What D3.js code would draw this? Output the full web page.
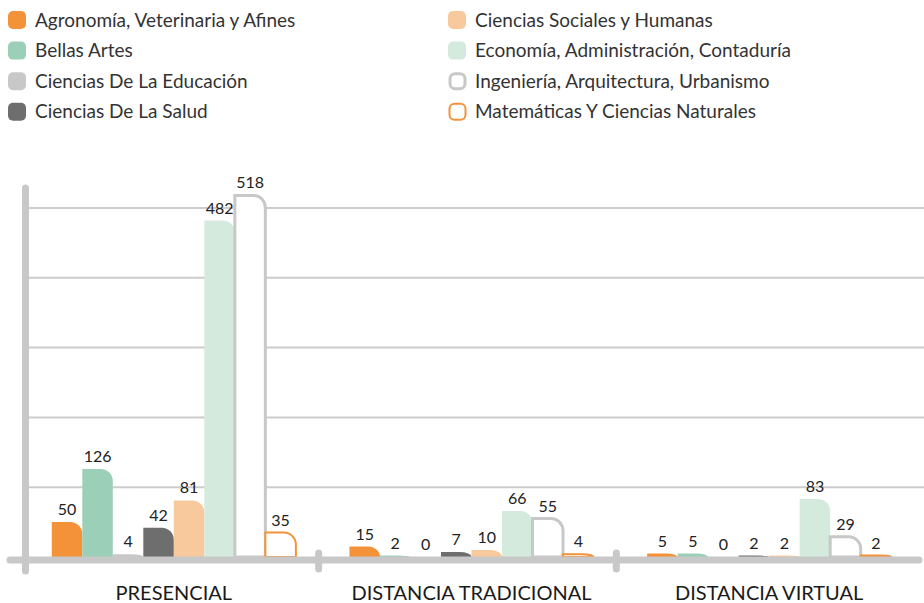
<!DOCTYPE html>
<html>
<head>
<meta charset="utf-8">
<script src="https://cdn.jsdelivr.net/npm/d3@7"></script>
<style>
  body { margin: 0; background: #fff; }
  svg { display: block; font-family: Lato, "Open Sans", sans-serif; }
</style>
</head>
<body>
<div id="chart"></div>
<script>
const modalities = ["PRESENCIAL", "DISTANCIA TRADICIONAL", "DISTANCIA VIRTUAL"];
const areas = [
  "Agronomía, Veterinaria y Afines",
  "Bellas Artes",
  "Ciencias De La Educación",
  "Ciencias De La Salud",
  "Ciencias Sociales y Humanas",
  "Economía, Administración, Contaduría",
  "Ingeniería, Arquitectura, Urbanismo",
  "Matemáticas Y Ciencias Naturales"
];
// values per area, in the order of modalities
const agronomia = [50, 15, 5];
const bellasArtes = [126, 2, 5];
const educacion = [4, 0, 0];
const salud = [42, 7, 2];
const sociales = [81, 10, 2];
const economia = [482, 66, 83];
const ingenieria = [518, 55, 29];
const matematicas = [35, 4, 2];
const gridTicks = [100, 200, 300, 400, 500];

const seriesValues = [agronomia, bellasArtes, educacion, salud, sociales, economia, ingenieria, matematicas];
const fills = ["#f39239", "#9ccfb8", "#c8c8c8", "#6e6e6e", "#f8c99d", "#d3eadd", "#ffffff", "#ffffff"];
const strokes = [null, null, null, null, null, null, "#c8c8c8", "#f39239"];
const strokeW = [0, 0, 0, 0, 0, 0, 3, 2];

const rows = [];
modalities.forEach((m, i) => {
  areas.forEach((a, j) => rows.push({ modality: m, area: a, idx: j, value: seriesValues[j][i] }));
});

const W = 924, H = 603;
const svg = d3.select("#chart").append("svg").attr("width", W).attr("height", H);

const x0 = d3.scaleBand().domain(modalities).range([25, 918]).paddingInner(0.18).paddingOuter(0.09);
const x1 = d3.scaleBand().domain(areas).range([0, x0.bandwidth()]);
const y = d3.scaleLinear().domain([0, 500]).range([557, 208]);

// Gridlines
svg.append("g")
  .selectAll("line")
  .data(gridTicks)
  .join("line")
  .attr("x1", 26).attr("x2", W)
  .attr("y1", (d) => y(d)).attr("y2", (d) => y(d))
  .attr("stroke", "#cccccc")
  .attr("stroke-width", 2);

// Y axis line
svg.append("line")
  .attr("x1", 25.5).attr("x2", 25.5)
  .attr("y1", 188).attr("y2", 571)
  .attr("stroke", "#c8c8c8")
  .attr("stroke-width", 7)
  .attr("stroke-linecap", "round");

// Bars with rounded top-right corner
function barPath(d) {
  const bx = x0(d.modality) + x1(d.area);
  const w = x1.bandwidth();
  const base = y(0);
  const top = y(d.value);
  const h = base - top;
  const r = Math.min(12, w);
  const ry = Math.min(r, h);
  return `M${bx},${base}V${top}H${bx + w - r}A${r},${ry} 0 0 1 ${bx + w},${top + ry}V${base}Z`;
}

svg.append("g")
  .selectAll("path")
  .data(rows.filter((d) => d.value > 0))
  .join("path")
  .attr("d", barPath)
  .attr("fill", (d) => fills[d.idx])
  .attr("stroke", (d) => strokes[d.idx] || "none")
  .attr("stroke-width", (d) => strokeW[d.idx]);

// Value labels
svg.append("g")
  .selectAll("text")
  .data(rows)
  .join("text")
  .attr("x", (d) => x0(d.modality) + x1(d.area) + x1.bandwidth() / 2)
  .attr("y", (d) => y(d.value) - 7)
  .attr("text-anchor", "middle")
  .attr("fill", "#222")
  .attr("font-size", "16px")
  .text((d) => d.value);

// X axis line and breaks
svg.append("line")
  .attr("x1", 10).attr("x2", 919)
  .attr("y1", 560).attr("y2", 560)
  .attr("stroke", "#c8c8c8")
  .attr("stroke-width", 7)
  .attr("stroke-linecap", "round");

svg.append("g")
  .selectAll("line")
  .data(modalities.slice(1))
  .join("line")
  .attr("x1", (d) => x0(d) - x0.step() * x0.paddingInner() / 2 - 4)
  .attr("x2", (d) => x0(d) - x0.step() * x0.paddingInner() / 2 - 4)
  .attr("y1", 553).attr("y2", 569)
  .attr("stroke", "#c8c8c8")
  .attr("stroke-width", 7)
  .attr("stroke-linecap", "round");

// Category labels
svg.append("g")
  .selectAll("text")
  .data(modalities)
  .join("text")
  .attr("x", (d) => x0(d) + x0.bandwidth() / 2)
  .attr("y", 600)
  .attr("text-anchor", "middle")
  .attr("fill", "#1a1a1a")
  .attr("font-size", "20px")
  .text((d) => d);

// Legend
const legend = svg.append("g")
  .selectAll("g")
  .data(areas)
  .join("g")
  .attr("transform", (d, i) => `translate(${i < 4 ? 8 : 448},${11 + (i % 4) * 30.6})`);

legend.append("rect")
  .attr("x", (d, i) => (strokes[i] ? strokeW[i] / 2 + 0.5 : 0))
  .attr("y", (d, i) => (strokes[i] ? strokeW[i] / 2 : 0))
  .attr("width", (d, i) => (strokes[i] ? 18 - strokeW[i] : 18))
  .attr("height", (d, i) => (strokes[i] ? 18 - strokeW[i] : 18))
  .attr("rx", 5)
  .attr("fill", (d, i) => fills[i])
  .attr("stroke", (d, i) => strokes[i] || "none")
  .attr("stroke-width", (d, i) => strokeW[i]);

legend.append("text")
  .attr("x", 27)
  .attr("y", 9)
  .attr("dy", "0.35em")
  .attr("fill", "#333")
  .attr("font-size", "19px")
  .text((d) => d);
</script>
</body>
</html>
